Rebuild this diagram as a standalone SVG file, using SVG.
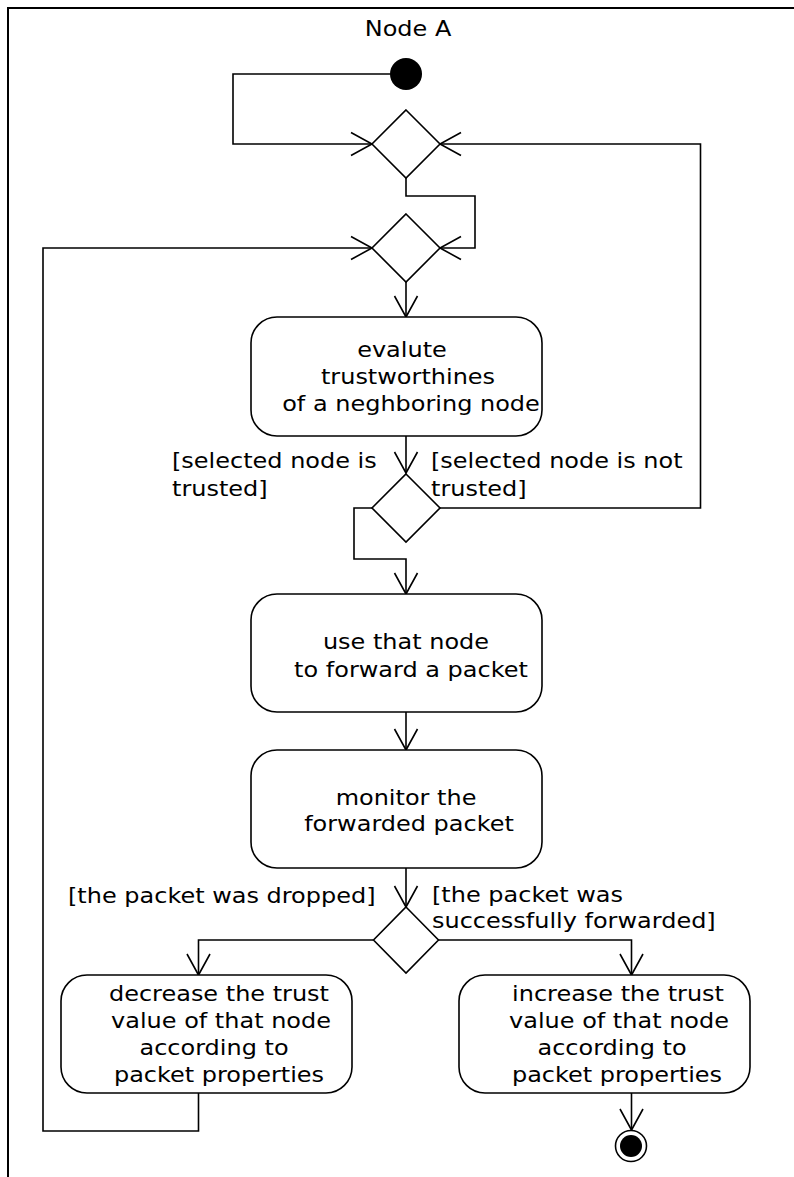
<svg xmlns="http://www.w3.org/2000/svg" width="794" height="1177" viewBox="0 0 794 1177">
<style>
  text { font-family: "DejaVu Sans", "Liberation Sans", sans-serif; font-size: 22px; fill: #000; }
  .c { text-anchor: middle; }
  .l { text-anchor: start; }
  .box { fill: #fff; stroke: #000; stroke-width: 1.6; }
  .dia { fill: #fff; stroke: #000; stroke-width: 1.6; }
  .edge { fill: none; stroke: #000; stroke-width: 1.6; }
  .frame { fill: none; stroke: #000; stroke-width: 2; }
</style>
<defs>
  <marker id="arr" markerUnits="userSpaceOnUse" markerWidth="30" markerHeight="30" viewBox="-25 -15 30 30" refX="0" refY="0" orient="auto">
    <path d="M-21,-11.5 L0,0 L-21,11.5" fill="none" stroke="#000" stroke-width="1.6"/>
  </marker>
</defs>
<rect width="794" height="1177" fill="#fff"/>
<g id="frame">
  <path class="frame" d="M8,1177 L8,8 L794,8"/>
  <text class="c" transform="translate(408,36) scale(1.09,1)">Node A</text>
</g>
<g id="connectors">
  <path class="edge" d="M390,74 L233,74 L233,144 L372,144" marker-end="url(#arr)"/>
  <path class="edge" d="M406,178 L406,196 L475,196 L475,248 L440,248" marker-end="url(#arr)"/>
  <path class="edge" d="M406,282 L406,317" marker-end="url(#arr)"/>
  <path class="edge" d="M406,436 L406,473" marker-end="url(#arr)"/>
  <path class="edge" d="M372,508 L354,508 L354,559 L406,559 L406,594" marker-end="url(#arr)"/>
  <path class="edge" d="M440,508 L700.5,508 L700.5,144 L440,144" marker-end="url(#arr)"/>
  <path class="edge" d="M406,712 L406,750" marker-end="url(#arr)"/>
  <path class="edge" d="M406,868 L406,907" marker-end="url(#arr)"/>
  <path class="edge" d="M373,940 L198.5,940 L198.5,975" marker-end="url(#arr)"/>
  <path class="edge" d="M438,940 L631.5,940 L631.5,975" marker-end="url(#arr)"/>
  <path class="edge" d="M198.5,1093 L198.5,1131 L43,1131 L43,248 L372,248" marker-end="url(#arr)"/>
  <path class="edge" d="M631.5,1093 L631.5,1130" marker-end="url(#arr)"/>
  <text class="l" transform="translate(172,468) scale(1.09,1)">[selected node is</text>
  <text class="l" transform="translate(172,496) scale(1.09,1)">trusted]</text>
  <text class="l" transform="translate(431,468) scale(1.09,1)">[selected node is not</text>
  <text class="l" transform="translate(431,496) scale(1.09,1)">trusted]</text>
  <text class="l" transform="translate(68,903) scale(1.09,1)">[the packet was dropped]</text>
  <text class="l" transform="translate(432,902) scale(1.09,1)">[the packet was</text>
  <text class="l" transform="translate(432,928) scale(1.09,1)">successfully forwarded]</text>
</g>
<g id="start">
  <circle cx="406" cy="74" r="16" fill="#000"/>
</g>
<g id="merge1">
  <polygon class="dia" points="406,110 440,144 406,178 372,144"/>
</g>
<g id="merge2">
  <polygon class="dia" points="406,214 440,248 406,282 372,248"/>
</g>
<g id="evaluate">
  <rect class="box" x="251" y="317" width="291" height="119" rx="26" ry="26"/>
  <text class="c" transform="translate(402,357) scale(1.09,1)">evalute</text>
  <text class="c" transform="translate(408,384) scale(1.09,1)">trustworthines</text>
  <text class="c" transform="translate(411,411) scale(1.09,1)">of a neghboring node</text>
</g>
<g id="decision1">
  <polygon class="dia" points="406,474 440,508 406,542 372,508"/>
</g>
<g id="use">
  <rect class="box" x="251" y="594" width="291" height="118" rx="26" ry="26"/>
  <text class="c" transform="translate(406,649) scale(1.09,1)">use that node</text>
  <text class="c" transform="translate(411,677) scale(1.09,1)">to forward a packet</text>
</g>
<g id="monitor">
  <rect class="box" x="251" y="750" width="291" height="118" rx="26" ry="26"/>
  <text class="c" transform="translate(406,805) scale(1.09,1)">monitor the</text>
  <text class="c" transform="translate(409,831) scale(1.09,1)">forwarded packet</text>
</g>
<g id="decision2">
  <polygon class="dia" points="406,907 438.5,940 406,973 373.5,940"/>
</g>
<g id="decrease">
  <rect class="box" x="61" y="975" width="291" height="118" rx="26" ry="26"/>
  <text class="c" transform="translate(219,1001) scale(1.09,1)">decrease the trust</text>
  <text class="c" transform="translate(221,1028) scale(1.09,1)">value of that node</text>
  <text class="c" transform="translate(214,1055) scale(1.09,1)">according to</text>
  <text class="c" transform="translate(219,1082) scale(1.09,1)">packet properties</text>
</g>
<g id="increase">
  <rect class="box" x="459" y="975" width="291" height="118" rx="26" ry="26"/>
  <text class="c" transform="translate(618,1001) scale(1.09,1)">increase the trust</text>
  <text class="c" transform="translate(619,1028) scale(1.09,1)">value of that node</text>
  <text class="c" transform="translate(612,1055) scale(1.09,1)">according to</text>
  <text class="c" transform="translate(617,1082) scale(1.09,1)">packet properties</text>
</g>
<g id="end">
  <circle cx="631" cy="1146" r="15.5" fill="#fff" stroke="#000" stroke-width="1.6"/>
  <circle cx="631" cy="1146" r="11" fill="#000"/>
</g>
</svg>
